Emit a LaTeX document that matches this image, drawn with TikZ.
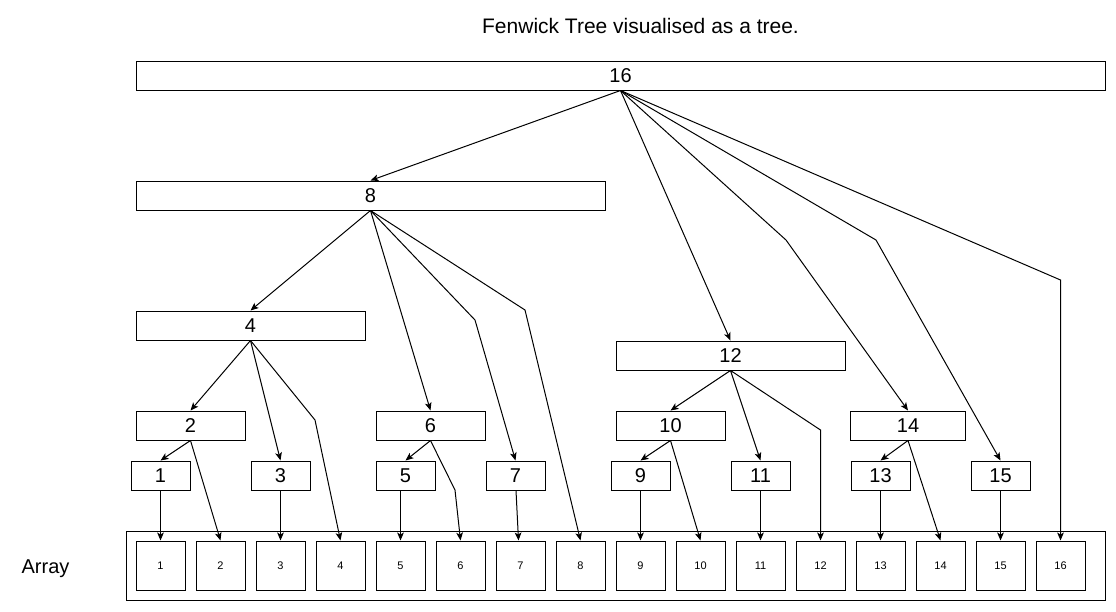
\documentclass[tikz,border=0pt]{standalone}
\usepackage{fontspec}
\setmainfont{Liberation Sans}
\usetikzlibrary{arrows.meta}
\begin{document}
\begin{tikzpicture}[x=0.75pt,y=-0.75pt,
  line width=0.75pt,
  box/.style={draw, rectangle, inner sep=0pt, minimum height=21.75pt, font=\fontsize{15}{18}\selectfont},
  cell/.style={draw, rectangle, inner sep=0pt, minimum width=36.75pt, minimum height=36.75pt, font=\fontsize{8.25}{10}\selectfont},
  arr/.style={-{Stealth[length=6pt,width=5pt,inset=1.5pt]}}]
\useasboundingbox (0,0) rectangle (1116,611);
\node[font=\fontsize{15.75}{18}\selectfont] (title) at (640.5,26) {Fenwick Tree visualised as a tree.};
\node[font=\fontsize{15}{18}\selectfont, anchor=base] (arraylabel) at (45.5,573) {Array};
% container
\node[draw, rectangle, inner sep=0pt, minimum width=734.25pt, minimum height=51.75pt] (cont) at (615.5,565.5) {};
% tree boxes
\node[box, minimum width=726.75pt] (b16) at (620.5,75.5) {16};
\node[box, minimum width=351.75pt] (b8) at (370.5,195.5) {8};
\node[box, minimum width=171.75pt] (b4) at (250.5,325.5) {4};
\node[box, minimum width=171.75pt] (b12) at (730.5,355.5) {12};
\node[box, minimum width=81.75pt] (b2) at (190.5,425.5) {2};
\node[box, minimum width=81.75pt] (b6) at (430.5,425.5) {6};
\node[box, minimum width=81.75pt] (b10) at (670.5,425.5) {10};
\node[box, minimum width=86.25pt] (b14) at (908,425.5) {14};
\foreach \n/\x in {1/160.5,3/280.5,5/405.5,7/515.5,9/640.5,11/760.5,13/880.5,15/1000.5}
  \node[box, minimum width=44.25pt] (b\n) at (\x,475.5) {\n};
% cells
\foreach \i in {1,...,16}
  \node[cell] (c\i) at ({160.5+60*(\i-1)},565.5) {\i};
% edges from 16
\draw[arr] (b16.south) -- (b8.north);
\draw[arr] (b16.south) -- (b12.north);
\draw[arr] (b16.south) -- (786,240) -- (b14.north);
\draw[arr] (b16.south) -- (876,240) -- (b15.north);
\draw[arr] (b16.south) -- (1060.5,280) -- (c16.north);
% edges from 8
\draw[arr] (b8.south) -- (b4.north);
\draw[arr] (b8.south) -- (b6.north);
\draw[arr] (b8.south) -- (475,320) -- (b7.north);
\draw[arr] (b8.south) -- (525,310) -- (c8.north);
% edges from 4
\draw[arr] (b4.south) -- (b2.north);
\draw[arr] (b4.south) -- (b3.north);
\draw[arr] (b4.south) -- (315,420) -- (c4.north);
% from 2
\draw[arr] (b2.south) -- (b1.north);
\draw[arr] (b2.south) -- (c2.north);
% from 6
\draw[arr] (b6.south) -- (b5.north);
\draw[arr] (b6.south) -- (455,490) -- (c6.north);
% from 12
\draw[arr] (b12.south) -- (b10.north);
\draw[arr] (b12.south) -- (b11.north);
\draw[arr] (b12.south) -- (820.5,430) -- (c12.north);
% from 10
\draw[arr] (b10.south) -- (b9.north);
\draw[arr] (b10.south) -- (c10.north);
% from 14
\draw[arr] (b14.south) -- (b13.north);
\draw[arr] (b14.south) -- (c14.north);
% leaves to cells
\draw[arr] (b1.south) -- (c1.north);
\draw[arr] (b3.south) -- (c3.north);
\draw[arr] (c5.north |- b5.south) -- (c5.north);
\draw[arr] ([xshift=0.375pt]b7.south) -- ([xshift=-1.5pt]c7.north);
\draw[arr] (b9.south) -- (c9.north);
\draw[arr] (b11.south) -- (c11.north);
\draw[arr] (b13.south) -- (c13.north);
\draw[arr] (b15.south) -- (c15.north);
\end{tikzpicture}
\end{document}
